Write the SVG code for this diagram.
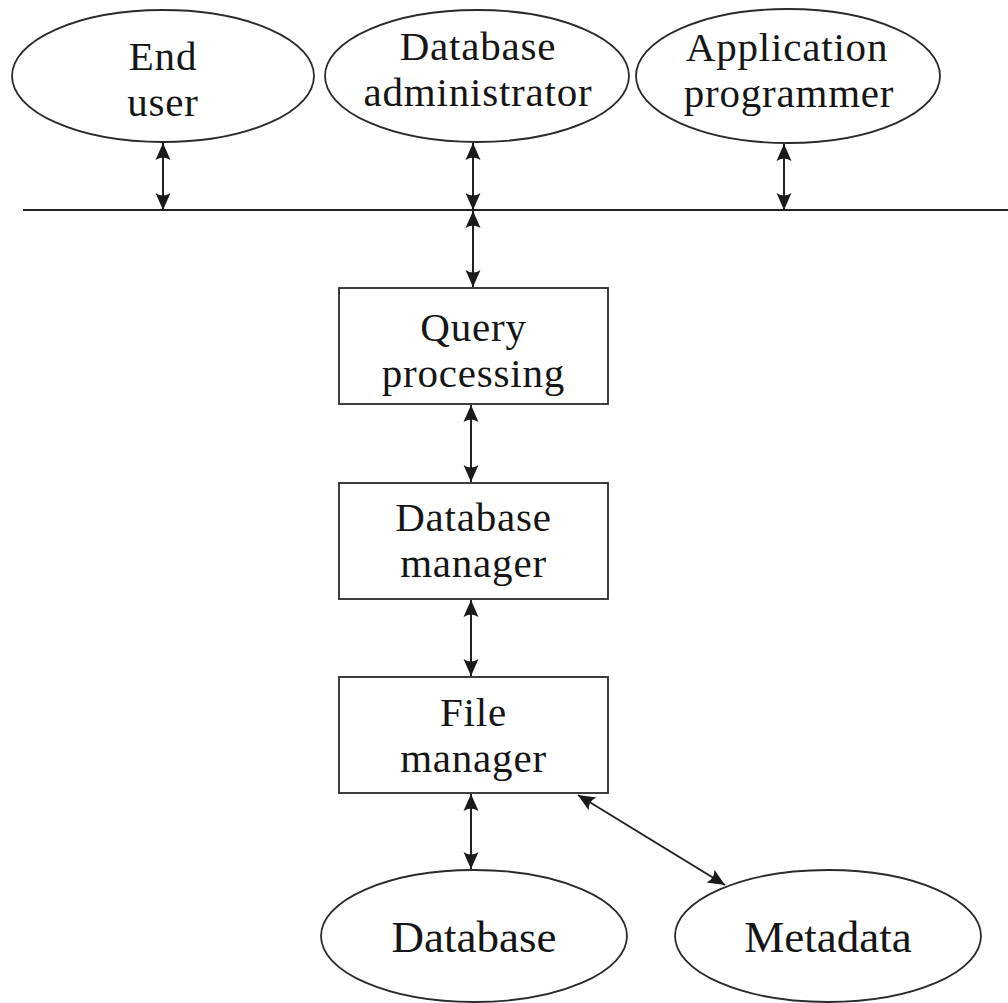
<svg xmlns="http://www.w3.org/2000/svg" width="1008" height="1003" viewBox="0 0 1008 1003">
  <style>
    .shape { fill: #fff; stroke: #2a2a2a; stroke-width: 1.8; }
    .label { font-family: "Liberation Serif", "DejaVu Serif", serif; font-size: 41px; letter-spacing: 0.8px; fill: #151515; text-anchor: middle; }
    .big { font-size: 45px; letter-spacing: 0; }
    .wire { fill: none; stroke: #222; stroke-width: 2; }
    .link { fill: none; stroke: #222; stroke-width: 2; marker-start: url(#tip); marker-end: url(#tip); }
  </style>
  <defs>
    <marker id="tip" markerUnits="userSpaceOnUse" markerWidth="20" markerHeight="18" viewBox="-18 -9 20 18" refX="0" refY="0" orient="auto-start-reverse">
      <path d="M0,0 L-17,-7.5 Q-12,0 -17,7.5 Z" fill="#1a1a1a"/>
    </marker>
  </defs>
  <rect width="1008" height="1003" fill="#fff"/>

  <!-- users -->
  <g id="end-user">
    <ellipse class="shape" cx="163" cy="76" rx="151" ry="66"/>
    <text class="label"><tspan x="163" y="70">End</tspan><tspan x="163" y="116">user</tspan></text>
  </g>
  <g id="database-administrator">
    <ellipse class="shape" cx="477" cy="76" rx="152" ry="66"/>
    <text class="label"><tspan x="478" y="60">Database</tspan><tspan x="478" y="106">administrator</tspan></text>
  </g>
  <g id="application-programmer">
    <ellipse class="shape" cx="788" cy="76" rx="152" ry="67"/>
    <text class="label"><tspan x="787" y="61">Application</tspan><tspan x="789" y="107">programmer</tspan></text>
  </g>

  <!-- processing stack -->
  <g id="query-processing">
    <rect class="shape" x="339" y="288" width="269" height="116"/>
    <text class="label"><tspan x="473.5" y="341">Query</tspan><tspan x="473.5" y="387">processing</tspan></text>
  </g>
  <g id="database-manager">
    <rect class="shape" x="339" y="483" width="269" height="116"/>
    <text class="label"><tspan x="473.5" y="531">Database</tspan><tspan x="473.5" y="577">manager</tspan></text>
  </g>
  <g id="file-manager">
    <rect class="shape" x="339" y="677" width="269" height="116"/>
    <text class="label"><tspan x="473.5" y="726">File</tspan><tspan x="473.5" y="772">manager</tspan></text>
  </g>

  <!-- storage -->
  <g id="database">
    <ellipse class="shape" cx="474" cy="936" rx="153" ry="66"/>
    <text class="label big" x="474" y="952">Database</text>
  </g>
  <g id="metadata">
    <ellipse class="shape" cx="828" cy="936" rx="153" ry="66"/>
    <text class="label big" x="828" y="952">Metadata</text>
  </g>

  <!-- connectors -->
  <g id="connectors">
    <line class="wire" x1="23" y1="210" x2="1008" y2="210"/>
    <line class="link" x1="163" y1="143" x2="163" y2="210"/>
    <line class="link" x1="473" y1="143" x2="473" y2="210"/>
    <line class="link" x1="784" y1="144" x2="784" y2="210"/>
    <line class="link" x1="473" y1="211" x2="473" y2="287"/>
    <line class="link" x1="471" y1="405" x2="471" y2="482"/>
    <line class="link" x1="471" y1="600" x2="471" y2="676"/>
    <line class="link" x1="471" y1="794" x2="471" y2="869"/>
    <line class="link" x1="578" y1="795" x2="725" y2="885"/>
  </g>
</svg>
